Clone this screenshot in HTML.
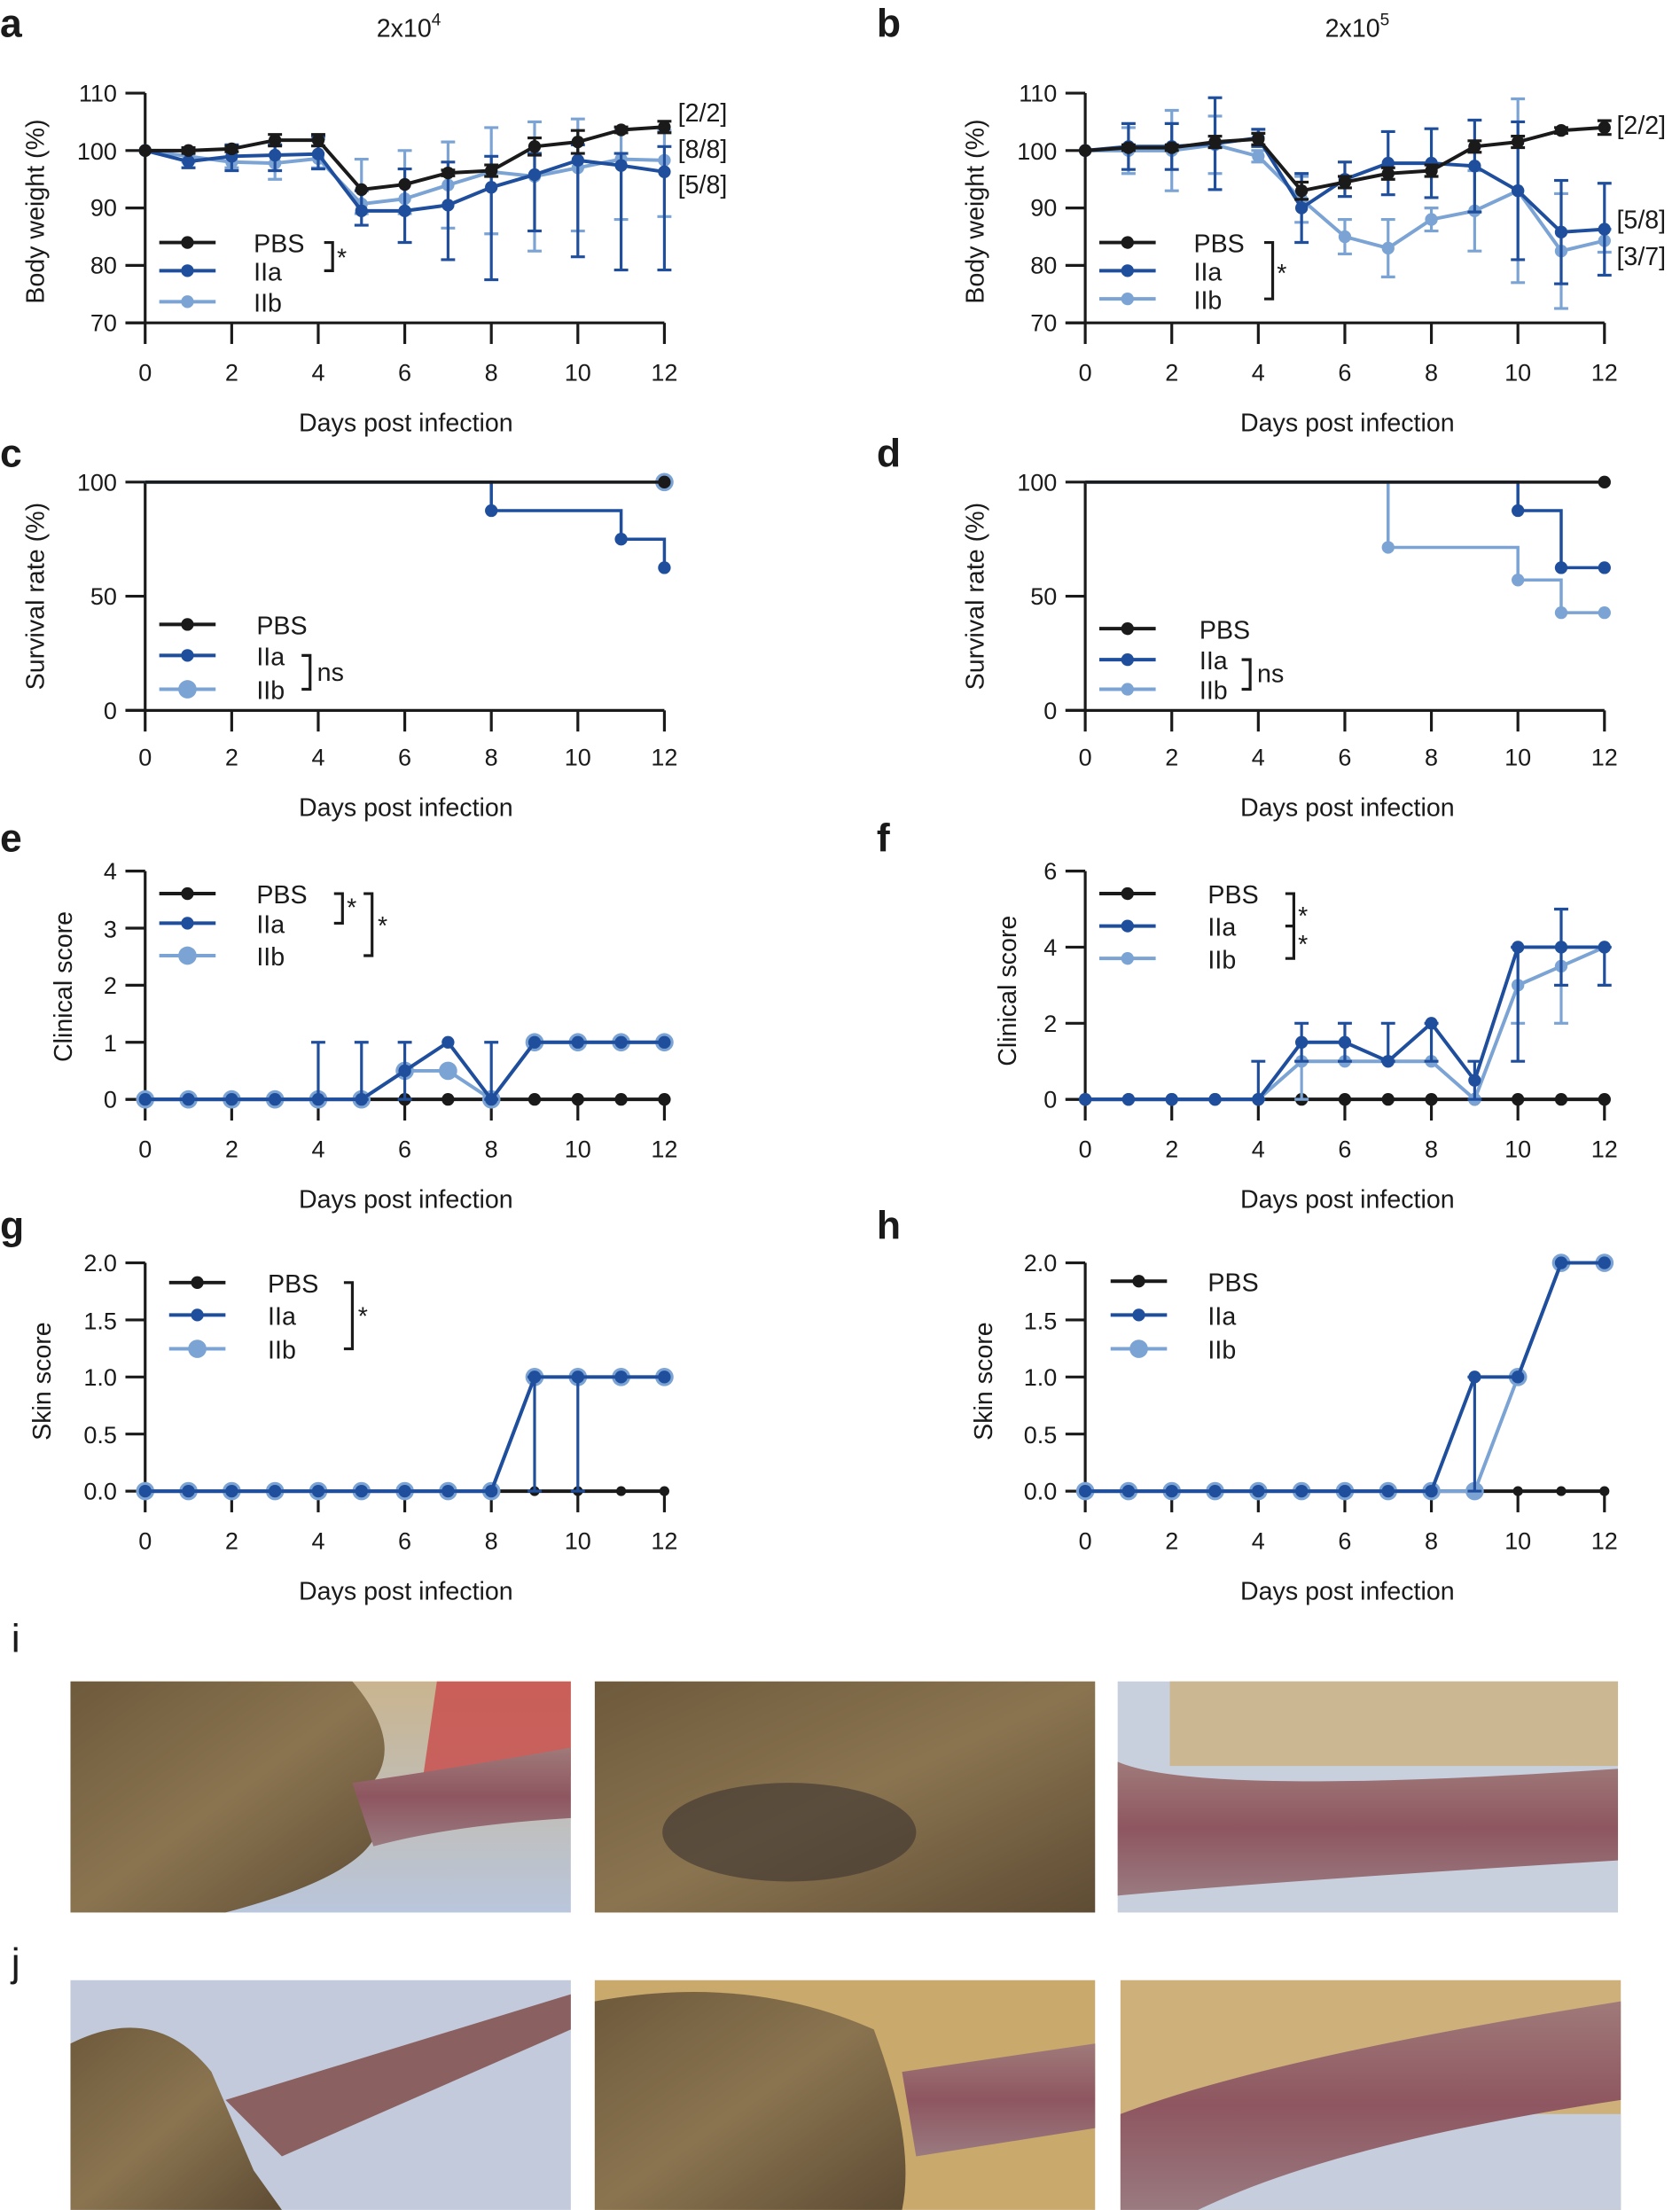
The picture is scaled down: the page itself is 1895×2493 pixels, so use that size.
<!DOCTYPE html>
<html><head><meta charset="utf-8"><style>
html,body{margin:0;padding:0;background:#fff;}
svg{display:block;}
text{font-family:"Liberation Sans",Arial,sans-serif;fill:#1a1a1a;}
.t{font-size:17px;}
.yl{font-size:17px;text-anchor:end;}
.xl{font-size:17px;text-anchor:middle;}
.lg{font-size:18px;}
.pl{font-size:28px;font-weight:bold;}
.ti{font-size:18px;text-anchor:middle;}
</style></head><body>
<svg id="s" width="1895" height="2493" viewBox="0 0 1192 1568" xmlns="http://www.w3.org/2000/svg">
<defs>
<linearGradient id="fur" x1="0" y1="0" x2="1" y2="1"><stop offset="0" stop-color="#6e5a3c"/><stop offset="0.5" stop-color="#8a7450"/><stop offset="1" stop-color="#5e4c34"/></linearGradient>
<linearGradient id="bg1" x1="0" y1="0" x2="0" y2="1"><stop offset="0" stop-color="#c9b48e"/><stop offset="1" stop-color="#b9c6dc"/></linearGradient>
<linearGradient id="tail" x1="0" y1="0" x2="0" y2="1"><stop offset="0" stop-color="#a07a7a"/><stop offset="0.5" stop-color="#8e5660"/><stop offset="1" stop-color="#9a7a80"/></linearGradient>
</defs>
<g id="photos">
<rect x="50" y="1193" width="355" height="164" fill="url(#bg1)"/>
<polygon points="310,1193 405,1193 405,1260 300,1262" fill="#c94a4a" opacity="0.8"/>
<path d="M50,1193 L250,1193 Q290,1240 260,1270 Q300,1320 160,1357 L50,1357Z" fill="url(#fur)"/>
<path d="M250,1265 Q320,1255 405,1240 L405,1290 Q320,1295 265,1310Z" fill="url(#tail)"/>
<rect x="422" y="1193" width="355" height="164" fill="url(#fur)"/>
<ellipse cx="560" cy="1300" rx="90" ry="35" fill="#3c3430" opacity="0.6"/>
<rect x="793" y="1193" width="355" height="164" fill="#c8d0de"/>
<rect x="830" y="1193" width="318" height="60" fill="#cbb892"/>
<path d="M793,1250 Q850,1275 1148,1255 L1148,1320 Q900,1335 793,1345Z" fill="url(#tail)"/>
<rect x="50" y="1405" width="355" height="163" fill="#c2cadb"/>
<path d="M50,1450 Q110,1420 150,1470 L180,1540 L200,1568 L50,1568Z" fill="url(#fur)"/>
<path d="M160,1490 L405,1415 L405,1440 L200,1530Z" fill="#8a6060"/>
<rect x="422" y="1405" width="355" height="163" fill="#c9a96c"/>
<path d="M422,1420 Q530,1400 620,1440 Q650,1520 640,1568 L422,1568Z" fill="url(#fur)"/>
<path d="M640,1470 L777,1450 L777,1510 L650,1530Z" fill="url(#tail)"/>
<rect x="795" y="1405" width="355" height="163" fill="#cdb07a"/>
<rect x="795" y="1500" width="355" height="68" fill="#c6cedd"/>
<path d="M795,1500 Q900,1460 1150,1420 L1150,1490 Q950,1520 850,1568 L795,1568Z" fill="url(#tail)"/>
</g>
<g id="shapes"></g>

<text class="pl" x="0" y="26">a</text>
<text class="pl" x="622" y="26">b</text>
<text class="pl" x="0" y="331">c</text>
<text class="pl" x="622" y="331">d</text>
<text class="pl" x="0" y="604">e</text>
<text class="pl" x="622" y="604">f</text>
<text class="pl" x="0" y="879">g</text>
<text class="pl" x="622" y="879">h</text>
<text class="pl" x="8" y="1172" style="font-weight:normal">i</text>
<text class="pl" x="8" y="1402" style="font-weight:normal">j</text>

<text class="ti" x="290" y="26">2x10<tspan dy="-8" font-size="12">4</tspan></text>
<text class="ti" x="963" y="26">2x10<tspan dy="-8" font-size="12">5</tspan></text>

<text class="lg" transform="translate(31,150) rotate(-90)" text-anchor="middle">Body weight (%)</text>
<text class="lg" transform="translate(698,150) rotate(-90)" text-anchor="middle">Body weight (%)</text>
<text class="lg" transform="translate(31,423) rotate(-90)" text-anchor="middle">Survival rate (%)</text>
<text class="lg" transform="translate(698,423) rotate(-90)" text-anchor="middle">Survival rate (%)</text>
<text class="lg" transform="translate(51,700) rotate(-90)" text-anchor="middle">Clinical score</text>
<text class="lg" transform="translate(721,703) rotate(-90)" text-anchor="middle">Clinical score</text>
<text class="lg" transform="translate(36,980) rotate(-90)" text-anchor="middle">Skin score</text>
<text class="lg" transform="translate(704,980) rotate(-90)" text-anchor="middle">Skin score</text>

<text class="ti" x="288" y="306">Days post infection</text>
<text class="ti" x="956" y="306">Days post infection</text>
<text class="ti" x="288" y="579">Days post infection</text>
<text class="ti" x="956" y="579">Days post infection</text>
<text class="ti" x="288" y="857">Days post infection</text>
<text class="ti" x="956" y="857">Days post infection</text>
<text class="ti" x="288" y="1135">Days post infection</text>
<text class="ti" x="956" y="1135">Days post infection</text>

<g class="xl">
<text class="xl" x="103" y="270">0</text><text class="xl" x="164.4" y="270">2</text><text class="xl" x="225.8" y="270">4</text><text class="xl" x="287.2" y="270">6</text><text class="xl" x="348.6" y="270">8</text><text class="xl" x="410" y="270">10</text><text class="xl" x="471.4" y="270">12</text>
<text class="xl" x="770" y="270">0</text><text class="xl" x="831.4" y="270">2</text><text class="xl" x="892.8" y="270">4</text><text class="xl" x="954.2" y="270">6</text><text class="xl" x="1015.6" y="270">8</text><text class="xl" x="1077" y="270">10</text><text class="xl" x="1138.4" y="270">12</text>
<text class="xl" x="103" y="543">0</text><text class="xl" x="164.4" y="543">2</text><text class="xl" x="225.8" y="543">4</text><text class="xl" x="287.2" y="543">6</text><text class="xl" x="348.6" y="543">8</text><text class="xl" x="410" y="543">10</text><text class="xl" x="471.4" y="543">12</text>
<text class="xl" x="770" y="543">0</text><text class="xl" x="831.4" y="543">2</text><text class="xl" x="892.8" y="543">4</text><text class="xl" x="954.2" y="543">6</text><text class="xl" x="1015.6" y="543">8</text><text class="xl" x="1077" y="543">10</text><text class="xl" x="1138.4" y="543">12</text>
<text class="xl" x="103" y="821">0</text><text class="xl" x="164.4" y="821">2</text><text class="xl" x="225.8" y="821">4</text><text class="xl" x="287.2" y="821">6</text><text class="xl" x="348.6" y="821">8</text><text class="xl" x="410" y="821">10</text><text class="xl" x="471.4" y="821">12</text>
<text class="xl" x="770" y="821">0</text><text class="xl" x="831.4" y="821">2</text><text class="xl" x="892.8" y="821">4</text><text class="xl" x="954.2" y="821">6</text><text class="xl" x="1015.6" y="821">8</text><text class="xl" x="1077" y="821">10</text><text class="xl" x="1138.4" y="821">12</text>
<text class="xl" x="103" y="1099">0</text><text class="xl" x="164.4" y="1099">2</text><text class="xl" x="225.8" y="1099">4</text><text class="xl" x="287.2" y="1099">6</text><text class="xl" x="348.6" y="1099">8</text><text class="xl" x="410" y="1099">10</text><text class="xl" x="471.4" y="1099">12</text>
<text class="xl" x="770" y="1099">0</text><text class="xl" x="831.4" y="1099">2</text><text class="xl" x="892.8" y="1099">4</text><text class="xl" x="954.2" y="1099">6</text><text class="xl" x="1015.6" y="1099">8</text><text class="xl" x="1077" y="1099">10</text><text class="xl" x="1138.4" y="1099">12</text>
</g>

<text class="yl" x="83" y="72">110</text><text class="yl" x="83" y="113">100</text><text class="yl" x="83" y="153">90</text><text class="yl" x="83" y="194">80</text><text class="yl" x="83" y="235">70</text>
<text class="yl" x="750" y="72">110</text><text class="yl" x="750" y="113">100</text><text class="yl" x="750" y="153">90</text><text class="yl" x="750" y="194">80</text><text class="yl" x="750" y="235">70</text>
<text class="yl" x="83" y="348">100</text><text class="yl" x="83" y="429">50</text><text class="yl" x="83" y="510">0</text>
<text class="yl" x="750" y="348">100</text><text class="yl" x="750" y="429">50</text><text class="yl" x="750" y="510">0</text>
<text class="yl" x="83" y="624">4</text><text class="yl" x="83" y="665">3</text><text class="yl" x="83" y="705">2</text><text class="yl" x="83" y="746">1</text><text class="yl" x="83" y="786">0</text>
<text class="yl" x="750" y="624">6</text><text class="yl" x="750" y="678">4</text><text class="yl" x="750" y="732">2</text><text class="yl" x="750" y="786">0</text>
<text class="yl" x="83" y="902">2.0</text><text class="yl" x="83" y="943">1.5</text><text class="yl" x="83" y="983">1.0</text><text class="yl" x="83" y="1024">0.5</text><text class="yl" x="83" y="1064">0.0</text>
<text class="yl" x="750" y="902">2.0</text><text class="yl" x="750" y="943">1.5</text><text class="yl" x="750" y="983">1.0</text><text class="yl" x="750" y="1024">0.5</text><text class="yl" x="750" y="1064">0.0</text>

<text class="lg" x="481" y="86">[2/2]</text><text class="lg" x="481" y="112">[8/8]</text><text class="lg" x="481" y="137">[5/8]</text>
<text class="lg" x="1147" y="95">[2/2]</text><text class="lg" x="1147" y="162">[5/8]</text><text class="lg" x="1147" y="188">[3/7]</text>

<text class="lg" x="180" y="179">PBS</text><text class="lg" x="180" y="199">IIa</text><text class="lg" x="180" y="221">IIb</text><text class="lg" x="239" y="189">*</text>
<text class="lg" x="847" y="179">PBS</text><text class="lg" x="847" y="199">IIa</text><text class="lg" x="847" y="219">IIb</text><text class="lg" x="906" y="200">*</text>
<text class="lg" x="182" y="450">PBS</text><text class="lg" x="182" y="472">IIa</text><text class="lg" x="182" y="496">IIb</text><text class="lg" x="225" y="483">ns</text>
<text class="lg" x="851" y="453">PBS</text><text class="lg" x="851" y="475">IIa</text><text class="lg" x="851" y="496">IIb</text><text class="lg" x="892" y="484">ns</text>
<text class="lg" x="182" y="641">PBS</text><text class="lg" x="182" y="662">IIa</text><text class="lg" x="182" y="685">IIb</text><text class="lg" x="246" y="650">*</text><text class="lg" x="268" y="663">*</text>
<text class="lg" x="857" y="641">PBS</text><text class="lg" x="857" y="664">IIa</text><text class="lg" x="857" y="687">IIb</text><text class="lg" x="921" y="656">*</text><text class="lg" x="921" y="676">*</text>
<text class="lg" x="190" y="917">PBS</text><text class="lg" x="190" y="940">IIa</text><text class="lg" x="190" y="964">IIb</text><text class="lg" x="254" y="940">*</text>
<text class="lg" x="857" y="916">PBS</text><text class="lg" x="857" y="940">IIa</text><text class="lg" x="857" y="964">IIb</text>
</svg>
<script>
(function(){
var NS="http://www.w3.org/2000/svg",G=document.getElementById("shapes");
var K="#1a1a1a",A="#1f4e9c",B="#7ba3d4",DX=30.7;
function el(n,a){var e=document.createElementNS(NS,n);for(var k in a)e.setAttribute(k,a[k]);G.appendChild(e);return e;}
function ln(x1,y1,x2,y2,c,w){el("line",{x1:x1,y1:y1,x2:x2,y2:y2,stroke:c,"stroke-width":w||2});}
function P(x0,yT,yB,vmin,vmax,yt){
 var p={X:function(d){return x0+d*DX;},Y:function(v){return yB-(v-vmin)/(vmax-vmin)*(yB-yT);}};
 ln(x0,yT,x0,yB,K,2);ln(x0-14,yB,x0+12*DX,yB,K,2);
 yt.forEach(function(v){ln(x0-14,p.Y(v),x0,p.Y(v),K,2);});
 for(var d=0;d<=12;d+=2)ln(p.X(d),yB,p.X(d),yB+15,K,2);
 return p;}
function ser(p,v,c,r,err){
 if(err)err.forEach(function(e,d){if(!e)return;var x=p.X(d),lo=e[0],hi=e[1];
  ln(x,p.Y(lo),x,p.Y(hi),c,2);ln(x-5,p.Y(lo),x+5,p.Y(lo),c,2);ln(x-5,p.Y(hi),x+5,p.Y(hi),c,2);});
 var pts=v.map(function(y,d){return p.X(d)+","+p.Y(y);}).join(" ");
 el("polyline",{points:pts,fill:"none",stroke:c,"stroke-width":2.5,"stroke-linejoin":"round"});
 v.forEach(function(y,d){el("circle",{cx:p.X(d),cy:p.Y(y),r:r,fill:c});});}
function step(p,seg,c,dots,r){
 var d="M"+p.X(seg[0][0])+","+p.Y(seg[0][1]);
 for(var i=1;i<seg.length;i++){d+=" H"+p.X(seg[i][0])+" V"+p.Y(seg[i][1]);}
 el("path",{d:d,fill:"none",stroke:c,"stroke-width":2.2});
 dots.forEach(function(q){el("circle",{cx:p.X(q[0]),cy:p.Y(q[1]),r:r,fill:c});});}
function leg(x,ys,r){[K,A,B].forEach(function(c,i){ln(x,ys[i],x+40,ys[i],c,2.5);el("circle",{cx:x+20,cy:ys[i],r:r[i],fill:c});});}
function br(x,y1,y2,mid){el("path",{d:"M"+(x-6)+","+y1+" H"+x+" V"+y2+" H"+(x-6)+(mid?" M"+x+","+mid+" H"+(x-6):""),fill:"none",stroke:K,"stroke-width":2});}
function pm(v,e){return v.map(function(y,i){return e[i]?[y-e[i],y+e[i]]:0;});}
// a
var p=P(103,66,229,70,110,[110,100,90,80,70]);
var pbs=[100,100,100.3,101.8,101.8,93.2,94.1,96.1,96.5,100.7,101.5,103.6,104.1];
var iia=[100,98.1,99,99.2,99.4,89.5,89.5,90.5,93.6,95.8,98.3,97.4,96.3];
var iib=[100,99,98,97.8,98.6,90.7,91.6,94,96.3,95.5,97,98.5,98.3];
ser(p,iib,B,4.5,[0,[98,100.5],[97,100.5],[95,101],[97,102],[89,98.5],[89,100],[86.5,101.5],[85.5,104],[82.5,105],[86,105.5],[88,104],[88.5,103.5]]);
ser(p,iia,A,4.5,[0,[97,100.5],[96.5,101],[96.5,101],[96.8,102.5],[87,93],[84,96.8],[81,98],[77.5,99],[86,99.5],[81.5,101],[79.2,99.5],[79.2,100.7]]);
ser(p,pbs,K,4.5,pm(pbs,[0,0.5,0.5,1,1,0,0,0.5,1,1.5,2,0.5,1]));
leg(113,[172,192,214],[4.5,4.5,4.5]);br(236,172,192);
// b
p=P(770,66,229,70,110,[110,100,90,80,70]);
pbs=[100,100.5,100.5,101.5,102,93,94.5,96,96.5,100.7,101.5,103.5,104];
iia=[100,100.7,100.7,101.2,102.2,90,95,97.8,97.8,97.3,93,85.8,86.3];
iib=[100,100,100,101,99,91.5,85,83,88,89.5,93,82.5,84.3];
ser(p,iib,B,4.5,pm(iib,[0,4,7,5,1,4,3,5,2,7,16,10,2]));
ser(p,iia,A,4.5,pm(iia,[0,4,4,8,1.5,6,3,5.5,6,8,12,9,8]));
ser(p,pbs,K,4.5,pm(pbs,[0,0.5,0.5,1,1,1.5,1,1,1,1,1,0.5,1.2]));
leg(780,[172,192,212],[4.5,4.5,4.5]);br(903,172,212);
// c
p=P(103,342,504,0,100,[100,50,0]);
step(p,[[0,100],[12,100]],B,[[12,100]],6.5);
step(p,[[0,100],[8,87.5],[11,75],[12,62.5]],A,[[8,87.5],[11,75],[12,62.5]],4.5);
step(p,[[0,100],[12,100]],K,[[12,100]],4.5);
leg(113,[443,465,489],[4.5,4.5,6.5]);br(220,465,489);
// d
p=P(770,342,504,0,100,[100,50,0]);
step(p,[[0,100],[7,71.4],[10,57.1],[11,42.8],[12,42.8]],B,[[7,71.4],[10,57.1],[11,42.8],[12,42.8]],4.5);
step(p,[[0,100],[10,87.5],[11,62.5],[12,62.5]],A,[[10,87.5],[11,62.5],[12,62.5]],4.5);
step(p,[[0,100],[12,100]],K,[[12,100]],4.5);
leg(780,[446,468,489],[4.5,4.5,4.5]);br(887,468,489);
// e
p=P(103,618,780,0,4,[4,3,2,1,0]);
var z=[0,0,0,0,0,0,0,0,0,0,0,0,0];
ser(p,z,K,4.5);
ser(p,[0,0,0,0,0,0,0.5,0.5,0,1,1,1,1],B,6.5);
ser(p,[0,0,0,0,0,0,0.5,1,0,1,1,1,1],A,4.5,[0,0,0,0,[0,1],[0,1],[0,1],0,[0,1],0,0,0,0]);
leg(113,[634,655,678],[4.5,4.5,6.5]);br(243,634,655);br(264,634,678);
// f
p=P(770,618,780,0,6,[6,4,2,0]);
ser(p,z,K,4.5);
ser(p,[0,0,0,0,0,1,1,1,1,0,3,3.5,4],B,4.5,[0,0,0,0,0,[0,1],0,0,0,0,[2,4],[2,5],0]);
ser(p,[0,0,0,0,0,1.5,1.5,1,2,0.5,4,4,4],A,4.5,[0,0,0,0,[0,1],[1,2],[1,2],[1,2],[1,2],[0,1],[1,4],[3,5],[3,4]]);
leg(780,[634,657,680],[4.5,4.5,4.5]);br(918,634,680,657);
// g
p=P(103,896,1058,0,2,[2,1.5,1,0.5,0]);
ser(p,z,K,3.5);
ser(p,[0,0,0,0,0,0,0,0,0,1,1,1,1],B,6.5);
ser(p,[0,0,0,0,0,0,0,0,0,1,1,1,1],A,4.5,[0,0,0,0,0,0,0,0,0,[0,1],[0,1],0,0]);
leg(120,[910,933,957],[4.5,4.5,6.5]);br(250,910,957);
// h
p=P(770,896,1058,0,2,[2,1.5,1,0.5,0]);
ser(p,z,K,3.5);
ser(p,[0,0,0,0,0,0,0,0,0,0,1,2,2],B,6.5);
ser(p,[0,0,0,0,0,0,0,0,0,1,1,2,2],A,4.5,[0,0,0,0,0,0,0,0,0,[0,1],0,0,0]);
leg(788,[909,933,957],[4.5,4.5,6.5]);
})();
</script>
</body></html>
